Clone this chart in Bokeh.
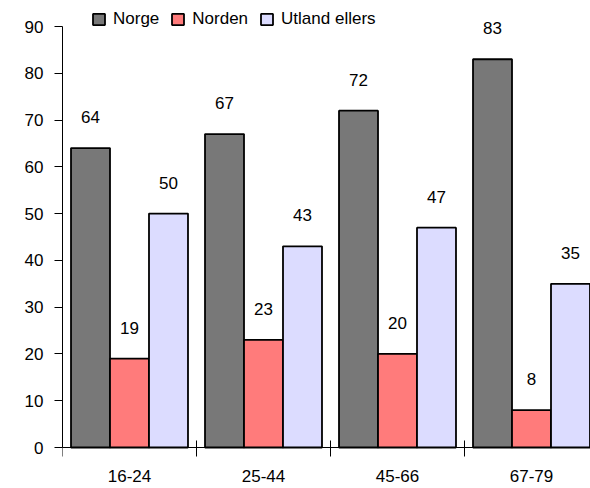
from bokeh.plotting import figure
from bokeh.models import ColumnDataSource, Range1d, FixedTicker
from bokeh.transform import dodge
from bokeh.core.properties import value
from bokeh.embed import file_html
from bokeh.resources import INLINE

categories = ["16-24", "25-44", "45-66", "67-79"]
norge = [64, 67, 72, 83]
norden = [19, 23, 20, 8]
utland = [50, 43, 47, 35]
series_names = ["Norge", "Norden", "Utland ellers"]
y_ticks = [0, 10, 20, 30, 40, 50, 60, 70, 80, 90]

FONT = "Liberation Sans"
FS = "17px"
colors = ["#787878", "#ff7b7b", "#dcdcff"]

centers = [i + 0.5 for i in range(len(categories))]
PX = 421 / 90.0  # pixels per unit

p = figure(width=590, height=488, output_backend="svg", toolbar_location=None,
           x_range=Range1d(0, 528 / 134.0),
           y_range=Range1d(-41 / PX, 447 / PX),
           min_border_left=62, min_border_right=0, min_border_top=0,
           min_border_bottom=0)
p.outline_line_color = None
p.xgrid.visible = False
p.ygrid.visible = False
p.background_fill_color = "white"
p.border_fill_color = "white"

bw = 0.291
offsets = [-bw, 0.0, bw]
for name, vals, col, off in zip(series_names, [norge, norden, utland], colors, offsets):
    src = ColumnDataSource(dict(x=centers, top=vals, label=[str(v) for v in vals]))
    p.vbar(x=dodge("x", off, range=p.x_range), top="top", bottom=0, width=bw, source=src,
           fill_color=col, line_color="black", line_width=1.8, legend_label=name)
    p.text(x=dodge("x", off, range=p.x_range), y="top", text="label", source=src,
           text_font=value(FONT), text_font_size=FS, text_color="black",
           text_align="center", text_baseline="middle", y_offset=-31)

# category labels below the axis line
cat_src = ColumnDataSource(dict(x=centers, y=[0] * len(categories), text=categories))
p.text(x="x", y="y", text="text", source=cat_src, text_font=value(FONT),
       text_font_size=FS, text_color="black", text_align="center",
       text_baseline="bottom", y_offset=34)

# x axis: separators only, fixed at y=0
xa = p.xaxis[0]
xa.fixed_location = 0
xa.ticker = FixedTicker(ticks=[], minor_ticks=[0, 1, 2, 3, 4])
xa.minor_tick_in = 7
xa.minor_tick_out = 9
xa.minor_tick_line_color = "black"
xa.major_tick_line_color = None
xa.major_tick_out = 0
xa.major_tick_in = 0
xa.major_label_text_font_size = "0px"
xa.axis_line_color = "black"
xa.axis_line_width = 1

ya = p.yaxis[0]
ya.ticker = FixedTicker(ticks=y_ticks, minor_ticks=[])
ya.bounds = (0, 90)
ya.major_tick_in = 0
ya.major_tick_out = 8
ya.major_label_standoff = 11
ya.major_label_text_font = FONT
ya.major_label_text_font_size = FS
ya.major_label_text_color = "black"
ya.axis_line_color = "black"
ya.major_tick_line_color = "black"

lg = p.legend[0]
lg.orientation = "horizontal"
lg.location = (29, 459)
lg.padding = 0
lg.margin = 0
lg.spacing = 11
lg.label_standoff = 7
lg.glyph_width = 15
lg.glyph_height = 14
lg.label_text_font = FONT
lg.label_text_font_size = FS
lg.label_text_color = "black"
lg.border_line_color = None
lg.background_fill_alpha = 0

open("out.html", "w").write(file_html(p, INLINE))
